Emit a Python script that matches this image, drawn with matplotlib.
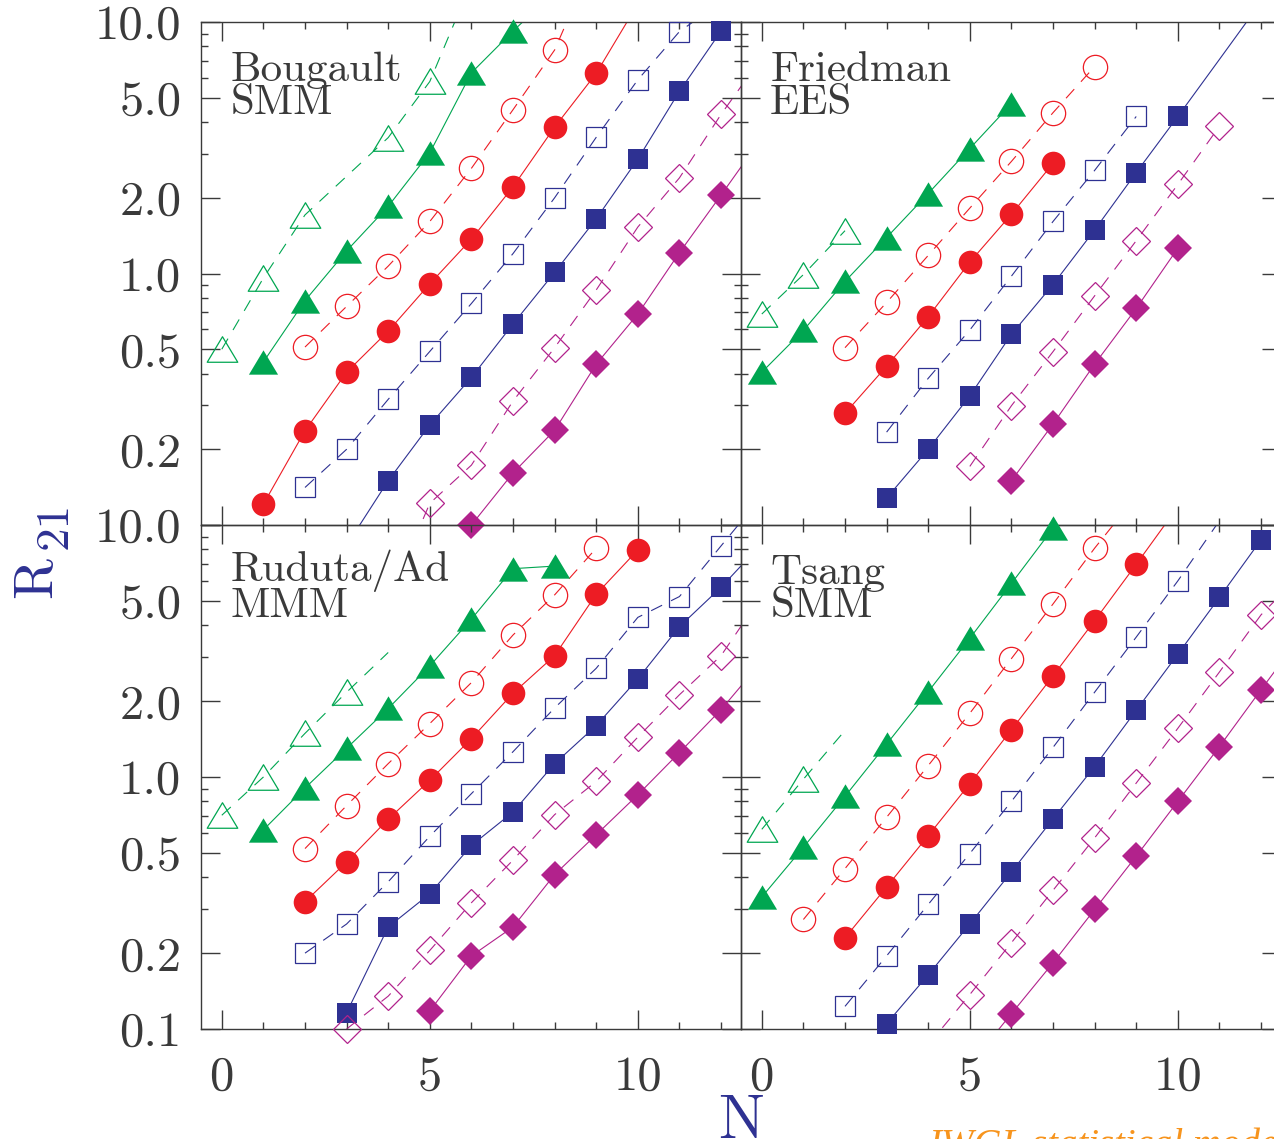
import matplotlib
matplotlib.use("Agg")
import matplotlib.pyplot as plt
from matplotlib.path import Path
from matplotlib.ticker import FixedLocator, FixedFormatter, MultipleLocator, NullFormatter

plt.rcParams['font.family'] = ['cmr10', 'DejaVu Serif']
plt.rcParams['mathtext.fontset'] = 'cm'
plt.rcParams['axes.formatter.use_mathtext'] = True

W, H = 1274, 1139

GREEN = '#00a651'
RED = '#ed1c24'
BLUE = '#2e3192'
MAGENTA = '#b2228c'
INK = '#3a3a3a'

# each curve: N values, R21 values, N range that carries symbols
bougault = {
    'tri_open':  ([0, 1, 2, 4, 5, 6], [0.50, 0.96, 1.71, 3.47, 5.80, 14.4], (0, 5)),
    'tri_full':  ([1, 2, 3, 4, 5, 6, 7, 8], [0.445, 0.78, 1.23, 1.85, 3.02, 6.28, 9.2, 13.2], (1, 7)),
    'circ_open': ([2, 3, 4, 5, 6, 7, 8, 9], [0.51, 0.74, 1.07, 1.61, 2.62, 4.48, 7.74, 18.6], (2, 8)),
    'circ_full': ([1, 2, 3, 4, 5, 6, 7, 8, 9, 10],
                  [0.121, 0.237, 0.405, 0.59, 0.91, 1.37, 2.21, 3.82, 6.25, 11.8], (1, 9)),
    'sq_open':   ([2, 3, 4, 5, 6, 7, 8, 9, 10, 11, 12],
                  [0.141, 0.200, 0.316, 0.49, 0.76, 1.20, 2.00, 3.48, 5.89, 9.16, 12.0], (2, 11)),
    'sq_full':   ([3, 4, 5, 6, 7, 8, 9, 10, 11, 12, 13],
                  [0.083, 0.150, 0.25, 0.386, 0.63, 1.01, 1.65, 2.85, 5.3, 9.2, 16.0], (4, 12)),
    'dia_open':  ([4, 5, 6, 7, 8, 9, 10, 11, 12, 13],
                  [0.05, 0.122, 0.173, 0.311, 0.507, 0.86, 1.53, 2.40, 4.29, 7.3], (5, 12)),
    'dia_full':  ([6, 7, 8, 9, 10, 11, 12, 13],
                  [0.100, 0.161, 0.238, 0.436, 0.69, 1.21, 2.05, 3.5], (6, 12)),
}

friedman = {
    'tri_open':  ([0, 1, 2], [0.69, 0.99, 1.48], (0, 2)),
    'tri_full':  ([0, 1, 2, 3, 4, 5, 6], [0.405, 0.594, 0.93, 1.39, 2.08, 3.14, 4.73], (0, 6)),
    'circ_open': ([2, 3, 4, 5, 6, 7, 8], [0.507, 0.767, 1.18, 1.82, 2.79, 4.36, 6.65], (2, 8)),
    'circ_full': ([2, 3, 4, 5, 6, 7], [0.278, 0.428, 0.673, 1.11, 1.72, 2.74], (2, 7)),
    'sq_open':   ([3, 4, 5, 6, 7, 8, 9], [0.234, 0.383, 0.596, 0.976, 1.61, 2.57, 4.21], (3, 9)),
    'sq_full':   ([3, 4, 5, 6, 7, 8, 9, 10, 11, 12],
                  [0.128, 0.200, 0.326, 0.573, 0.904, 1.49, 2.52, 4.21, 7.1, 12.0], (3, 10)),
    'dia_open':  ([5, 6, 7, 8, 9, 10, 11], [0.171, 0.298, 0.489, 0.815, 1.35, 2.26, 3.85], (5, 11)),
    'dia_full':  ([6, 7, 8, 9, 10], [0.150, 0.252, 0.436, 0.726, 1.26], (6, 10)),
}

ruduta = {
    'tri_open':  ([0, 1, 2, 3, 4], [0.705, 1.0, 1.49, 2.17, 3.12], (0, 3)),
    'tri_full':  ([1, 2, 3, 4, 5, 6, 7, 8], [0.617, 0.904, 1.30, 1.87, 2.76, 4.23, 6.71, 6.87], (1, 8)),
    'circ_open': ([2, 3, 4, 5, 6, 7, 8, 9], [0.52, 0.77, 1.13, 1.63, 2.37, 3.66, 5.28, 8.09], (2, 9)),
    'circ_full': ([2, 3, 4, 5, 6, 7, 8, 9, 10],
                  [0.32, 0.46, 0.68, 0.97, 1.42, 2.15, 3.03, 5.31, 7.96], (2, 10)),
    'sq_open':   ([2, 3, 4, 5, 6, 7, 8, 9, 10, 11, 12, 13],
                  [0.2, 0.261, 0.384, 0.582, 0.859, 1.26, 1.88, 2.70, 4.30, 5.20, 8.26, 13.1], (2, 12)),
    'sq_full':   ([3, 4, 5, 6, 7, 8, 9, 10, 11, 12, 13],
                  [0.116, 0.254, 0.344, 0.535, 0.726, 1.13, 1.60, 2.45, 3.95, 5.66, 8.5], (3, 12)),
    'dia_open':  ([3, 4, 5, 6, 7, 8, 9, 10, 11, 12, 13],
                  [0.1, 0.135, 0.205, 0.317, 0.468, 0.709, 0.96, 1.44, 2.12, 3.03, 5.3], (3, 12)),
    'dia_full':  ([5, 6, 7, 8, 9, 10, 11, 12, 13],
                  [0.118, 0.195, 0.254, 0.41, 0.59, 0.85, 1.25, 1.85, 2.9], (5, 12)),
}

tsang = {
    'tri_open':  ([0, 1, 2], [0.62, 0.98, 1.53], (0, 1)),
    'tri_full':  ([0, 1, 2, 3, 4, 5, 6, 7], [0.334, 0.526, 0.838, 1.35, 2.18, 3.55, 5.86, 9.7], (0, 7)),
    'circ_open': ([1, 2, 3, 4, 5, 6, 7, 8, 9],
                  [0.272, 0.433, 0.692, 1.11, 1.79, 2.95, 4.86, 8.09, 13.0], (1, 8)),
    'circ_full': ([2, 3, 4, 5, 6, 7, 8, 9, 10],
                  [0.23, 0.366, 0.585, 0.94, 1.54, 2.52, 4.17, 6.98, 11.8], (2, 9)),
    'sq_open':   ([2, 3, 4, 5, 6, 7, 8, 9, 10, 11],
                  [0.123, 0.195, 0.312, 0.497, 0.80, 1.31, 2.17, 3.59, 6.0, 10.4], (2, 10)),
    'sq_full':   ([3, 4, 5, 6, 7, 8, 9, 10, 11, 12],
                  [0.105, 0.164, 0.261, 0.42, 0.682, 1.10, 1.84, 3.07, 5.16, 8.73], (3, 12)),
    'dia_open':  ([4, 5, 6, 7, 8, 9, 10, 11, 12, 13],
                  [0.0865, 0.137, 0.22, 0.355, 0.573, 0.946, 1.56, 2.61, 4.40, 6.5], (5, 12)),
    'dia_full':  ([5, 6, 7, 8, 9, 10, 11, 12, 13],
                  [0.072, 0.115, 0.183, 0.298, 0.485, 0.80, 1.32, 2.22, 3.7], (6, 12)),
}

panels = [
    ('Bougault\nSMM', bougault),
    ('Friedman\nEES', friedman),
    ('Ruduta/Ad\nMMM', ruduta),
    ('Tsang\nSMM', tsang),
]

y_major = [0.1, 0.2, 0.5, 1.0, 2.0, 5.0, 10.0]
y_labels = ['0.1', '0.2', '0.5', '1.0', '2.0', '5.0', '10.0']
y_minor = [0.3, 0.4, 0.6, 0.7, 0.8, 0.9, 3, 4, 6, 7, 8, 9]
x_major = [0, 5, 10]

# closed triangle, a bit wider than tall
TRI = Path([(-1, -0.835), (1, -0.835), (0, 0.835), (-1, -0.835)],
           [Path.MOVETO, Path.LINETO, Path.LINETO, Path.CLOSEPOLY])
STYLE = {
    'tri_open':  dict(color=GREEN, marker=TRI, ms=22, filled=False, dashed=True),
    'tri_full':  dict(color=GREEN, marker=TRI, ms=21, filled=True, dashed=False),
    'circ_open': dict(color=RED, marker='o', ms=17.5, filled=False, dashed=True),
    'circ_full': dict(color=RED, marker='o', ms=17, filled=True, dashed=False),
    'sq_open':   dict(color=BLUE, marker='s', ms=15, filled=False, dashed=True),
    'sq_full':   dict(color=BLUE, marker='s', ms=15, filled=True, dashed=False),
    'dia_open':  dict(color=MAGENTA, marker='D', ms=14.5, filled=False, dashed=True),
    'dia_full':  dict(color=MAGENTA, marker='D', ms=14, filled=True, dashed=False),
}


def draw_panel(ax, curves):
    for key, (ns, rs, (lo, hi)) in curves.items():
        st = STYLE[key]
        line, = ax.plot(ns, rs, color=st['color'], lw=0.8, zorder=2)
        if st['dashed']:
            line.set_dashes((11, 9))
        mx = [n for n in ns if lo <= n <= hi]
        my = [r for n, r in zip(ns, rs) if lo <= n <= hi]
        face = st['color'] if st['filled'] else 'none'
        ax.plot(mx, my, ls='none', marker=st['marker'], ms=st['ms'],
                mfc=face, mec=st['color'], mew=0 if st['filled'] else 0.9,
                clip_on=False, zorder=3)


fig = plt.figure(figsize=(W / 100, H / 100), dpi=100)

# panel boxes in pixels: left, top, right, bottom
boxes = [(201, 22, 741, 525), (741, 22, 1281, 525),
         (201, 525, 741, 1029), (741, 525, 1281, 1029)]

for i, ((title, curves), (l, t, r, b)) in enumerate(zip(panels, boxes)):
    ax = fig.add_axes([l / W, 1 - b / H, (r - l) / W, (b - t) / H])
    ax.set_facecolor('none')
    draw_panel(ax, curves)

    ax.set_yscale('log')
    ax.set_ylim(0.1, 10)
    ax.set_xlim(-0.5, 12.48)

    ax.yaxis.set_major_locator(FixedLocator(y_major))
    ax.yaxis.set_minor_locator(FixedLocator(y_minor))
    ax.yaxis.set_minor_formatter(NullFormatter())
    ax.xaxis.set_major_locator(FixedLocator(x_major))
    ax.xaxis.set_minor_locator(MultipleLocator(1))

    left_col = i % 2 == 0
    bottom_row = i >= 2
    if left_col:
        labels = list(y_labels)
        if not bottom_row:
            labels[0] = ''
        ax.yaxis.set_major_formatter(FixedFormatter(labels))
    else:
        ax.yaxis.set_major_formatter(NullFormatter())
    if bottom_row:
        ax.xaxis.set_major_formatter(FixedFormatter([str(v) for v in x_major]))
    else:
        ax.xaxis.set_major_formatter(NullFormatter())

    ax.tick_params(which='both', direction='in', top=True, right=True,
                   color=INK, width=1.0, labelcolor=INK, labelsize=35)
    ax.tick_params(which='major', length=13.5)
    ax.tick_params(which='minor', length=5)
    ax.tick_params(axis='y', pad=14)
    ax.tick_params(axis='x', pad=19)
    for sp in ax.spines.values():
        sp.set_color(INK)
        sp.set_linewidth(1.0)

    # data set name and model, two lines in the upper left corner
    # (baseline anchors the second line)
    ax.text(0.054, 0.817, title, transform=ax.transAxes, fontsize=31, color=INK,
            va='baseline', linespacing=0.86)

# axis titles
fig.text(37 / W, 1 - 577 / H, 'R', rotation=90, ha='center', va='center',
         fontsize=40, color=BLUE)
fig.text(55 / W, 1 - 525 / H, '21', rotation=90, ha='center', va='center',
         fontsize=34, color=BLUE)
fig.text(741 / W, 1 - 1095 / H, 'N', ha='center', va='top', fontsize=44, color=BLUE)

fig.text(928 / W, 1 - 1156 / H, 'IWGL statistical model', ha='left', va='baseline',
         family=['Liberation Serif', 'DejaVu Serif'], style='italic',
         fontsize=28, color='#f7941d')

fig.savefig('out.png', dpi=100)
